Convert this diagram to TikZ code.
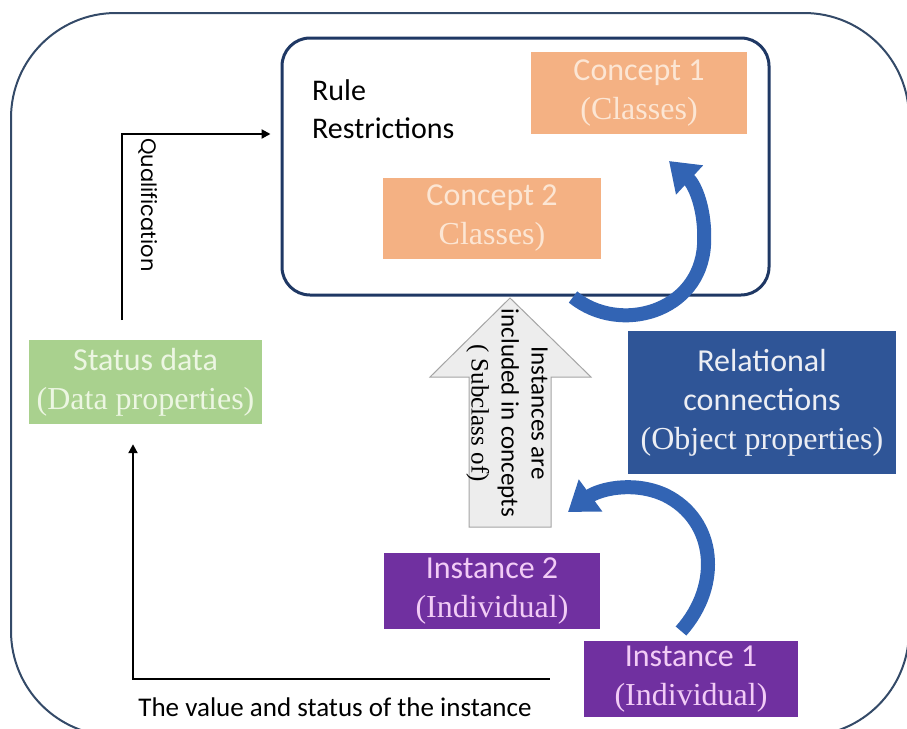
\documentclass[tikz,border=0pt]{standalone}
\usepackage{fontspec}
\setmainfont{Liberation Serif}
\setsansfont{Carlito}
\newfontfamily\qfont{Poppins}
\usetikzlibrary{arrows.meta,calc}
\definecolor{outerline}{RGB}{52,74,104}
\definecolor{innerline}{RGB}{31,56,100}
\definecolor{orangefill}{RGB}{244,177,131}
\definecolor{orangetext}{RGB}{252,230,212}
\definecolor{greenfill}{RGB}{169,209,142}
\definecolor{greentext}{RGB}{236,246,226}
\definecolor{relfill}{RGB}{47,85,151}
\definecolor{reltext}{RGB}{236,238,244}
\definecolor{purplefill}{RGB}{112,48,160}
\definecolor{purpletext}{RGB}{242,204,246}
\definecolor{arcblue}{RGB}{50,100,180}
\definecolor{grayfill}{RGB}{237,237,237}
\definecolor{grayline}{RGB}{165,165,165}
\begin{document}
\begin{tikzpicture}[x=1pt,y=-1pt,
  box/.style={rectangle, inner sep=0pt, align=center, font=\fontsize{32}{39}\selectfont},
  conn/.style={line width=2.2pt, -{Triangle[width=9pt,length=9pt]}},
  bluearc/.style={line width=14pt, arcblue, -{Triangle[width=38pt,length=28pt]}},
]
\useasboundingbox (0,0) rectangle (907,728);
\fill[white] (0,0) rectangle (907,728);
\begin{scope}
\clip (0,0) rectangle (907,728);
\draw[outerline, line width=2pt, rounded corners=105pt] (11,13) rectangle (909,736);
\end{scope}

% rule box
\node[draw=innerline, line width=3pt, rounded corners=28pt, minimum width=487pt, minimum height=257pt] (rules) at (525.5,166.5) {};
\node[anchor=west, inner sep=0pt, align=left, font=\sffamily\fontsize{30}{38}\selectfont] (ruletext) at (312,109) {Rule\\Restrictions};

\node[box, fill=orangefill, text=orangetext, minimum width=216pt, minimum height=82pt] (concept1) at (639,93) {{\sffamily Concept 1}\\(Classes)};
\node[box, fill=orangefill, text=orangetext, minimum width=218pt, minimum height=81pt] (concept2) at (492,218.5) {{\sffamily Concept 2}\\Classes)};

\node[box, fill=greenfill, text=greentext, minimum width=233pt, minimum height=84pt] (status) at (145.5,382) {{\sffamily Status data}\\(Data properties)};

\node[box, fill=relfill, text=reltext, minimum width=268pt, minimum height=143pt] (rel) at (762,402.5) {{\sffamily Relational}\\{\sffamily connections}\\(Object properties)};

\node[box, fill=purplefill, text=purpletext, minimum width=216pt, minimum height=76pt] (inst2) at (492,591) {{\sffamily Instance 2}\\(Individual)};
\node[box, fill=purplefill, text=purpletext, minimum width=214pt, minimum height=76pt] (inst1) at (691,679) {{\sffamily Instance 1}\\(Individual)};

% gray up arrow
\draw[grayline, fill=grayfill, line width=1pt] (469,527) -- (469,377) -- (430,377) -- (510,298) -- (591,377) -- (551,377) -- (551,527) -- cycle;
\node[rotate=-90, align=center, inner sep=0pt, font=\sffamily\fontsize{25}{30}\selectfont] (subtext) at (507,413) {Instances are\\included in concepts\\{\rmfamily ( Subclass of)}};

% qualification connector
\coordinate (qbot) at (122,320);
\coordinate (qtop) at (122,134);
\draw[conn, shorten >=10pt] (qbot) -- (qtop) -- (rules.west |- qtop);
\node[rotate=-90, inner sep=0pt, font=\qfont\fontsize{21}{24}\selectfont] (qual) at (148.5,205) {Qualification};

% value connector
\coordinate (dleft) at (133,679);
\draw[conn, shorten <=34pt, shorten >=20pt] (inst1.west) -- (dleft) -- (status.south -| dleft);
\node[inner sep=0pt, font=\sffamily\fontsize{27}{32}\selectfont] (valtext) at (335,707) {The value and status of the instance};

% blue curved arrows
\coordinate (utail) at (573,297);
\coordinate (utip) at (669,161);
\draw[bluearc] (utail) .. controls (620,335) and (700,312) .. (704,245) .. controls (706,210) and (695,185) .. (utip);
\coordinate (ltail) at (681,631);
\coordinate (ltip) at (568,512);
\draw[bluearc] (ltail) .. controls (722,585) and (716,520) .. (665,495) .. controls (632,480) and (598,490) .. (ltip);
\end{tikzpicture}
\end{document}
